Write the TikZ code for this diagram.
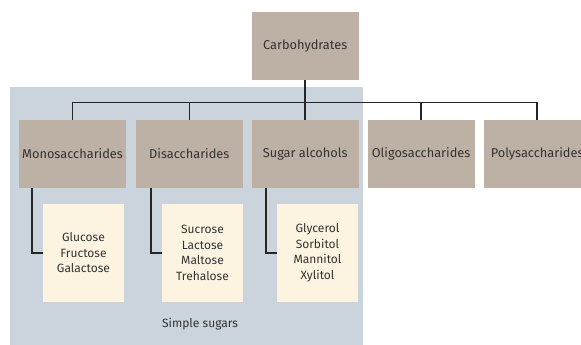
\documentclass[tikz,border=0pt]{standalone}
\usepackage{fontspec}
\setmainfont{Fira Sans}
\definecolor{taupe}{HTML}{BDB1A5}
\definecolor{bgblue}{HTML}{CBD3DC}
\definecolor{cream}{HTML}{FCF4E1}
\definecolor{ink}{HTML}{333333}
\definecolor{wire}{HTML}{262626}
\begin{document}
\begin{tikzpicture}[x=1pt,y=-1pt,
  catbox/.style={fill=taupe,draw=none,minimum width=107pt,minimum height=67.7pt,inner sep=0pt,text=ink,font=\fontsize{12.8}{15}\selectfont},
  listbox/.style={fill=cream,draw=none,minimum width=81pt,minimum height=97.7pt,inner sep=0pt,text=ink,align=center,font=\fontsize{12}{15.5}\selectfont},
  wireline/.style={draw=wire,line width=1.6pt}]
\useasboundingbox (0,0) rectangle (581,345);
\fill[bgblue] (10,87) rectangle (362.7,345);
\node[catbox] (carb) at (305.2,46) {Carbohydrates};
\node[catbox] (mono) at (72.5,153.8) {Monosaccharides};
\node[catbox] (di) at (189.3,153.8) {Disaccharides};
\node[catbox] (sugar) at (305.2,153.8) {Sugar alcohols};
\node[catbox] (oligo) at (421.1,153.8) {Oligosaccharides};
\node[catbox] (poly) at (537.2,153.8) {Polysaccharides};
\node[listbox] (glu) at (83.5,252.8) {Glucose\\Fructose\\Galactose};
\node[listbox] (suc) at (202.5,252.8) {Sucrose\\Lactose\\Maltose\\Trehalose};
\node[listbox] (gly) at (317.5,252.8) {Glycerol\\Sorbitol\\Mannitol\\Xylitol};
\node[text=ink,font=\fontsize{12}{14}\selectfont] (simple) at (200,324) {Simple sugars};
\coordinate (bar) at (0,102.3);
\draw[wireline] (carb.south) -- (sugar.north);
\draw[wireline] (mono.north) |- (poly.north |- bar) -- (poly.north);
\draw[wireline] (di.north) -- (di.north |- bar);
\draw[wireline] (oligo.north) -- (oligo.north |- bar);
\coordinate (k1) at ([xshift=-11pt]glu.west);
\coordinate (k2) at ([xshift=-11pt]suc.west);
\coordinate (k3) at ([xshift=-11pt]gly.west);
\draw[wireline] (mono.south -| k1) |- (glu.west);
\draw[wireline] (di.south -| k2) |- (suc.west);
\draw[wireline] (sugar.south -| k3) |- (gly.west);
\end{tikzpicture}
\end{document}
